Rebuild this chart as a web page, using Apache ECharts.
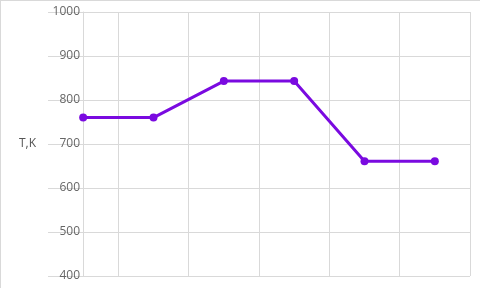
<!DOCTYPE html>
<html><head><meta charset="utf-8">
<script src="https://cdn.jsdelivr.net/npm/echarts@6/dist/echarts.min.js"></script>
<style>html,body{margin:0;padding:0;background:#fff}#c{width:480px;height:288px}</style>
</head><body><div id="c"></div>
<script>
var categories = ['1', '2', '3', '4', '5', '6'];
var temperature = [760, 760, 843, 843, 661, 661];
var yTicks = {min: 400, max: 1000, interval: 100};
var yName = 'T,K';

var chart = echarts.init(document.getElementById('c'));
chart.setOption({
  animation: false,
  graphic: [
    {type: 'line', shape: {x1: 0.5, y1: 0, x2: 0.5, y2: 288}, style: {stroke: '#d9d9d9', lineWidth: 1}},
    {type: 'line', shape: {x1: 0, y1: 0.5, x2: 480, y2: 0.5}, style: {stroke: '#d9d9d9', lineWidth: 1}}
  ],
  grid: {left: 48, right: 10, top: 12, bottom: 12, containLabel: false},
  xAxis: {
    type: 'category', data: categories, boundaryGap: true,
    axisLine: {show: false}, axisTick: {show: false}, axisLabel: {show: false},
    splitLine: {show: true, showMinLine: false, lineStyle: {color: '#d9d9d9', width: 1}}
  },
  yAxis: {
    type: 'value', min: yTicks.min, max: yTicks.max, interval: yTicks.interval,
    offset: -35,
    name: yName, nameLocation: 'middle', nameRotate: 0, nameGap: 47,
    nameTextStyle: {color: '#555', fontSize: 12, fontFamily: 'Open Sans'},
    axisLine: {show: true, lineStyle: {color: '#d9d9d9'}},
    axisTick: {show: false},
    axisLabel: {color: '#666', fontSize: 12, margin: 3, fontFamily: 'Open Sans',
      formatter: function (v) { return String(v); }},
    splitLine: {show: true, lineStyle: {color: '#d9d9d9', width: 1}}
  },
  series: [{
    type: 'line', data: temperature,
    symbol: 'circle', symbolSize: 8,
    lineStyle: {color: '#7a0ae0', width: 3},
    itemStyle: {color: '#7a0ae0'}
  }]
});
</script></body></html>
